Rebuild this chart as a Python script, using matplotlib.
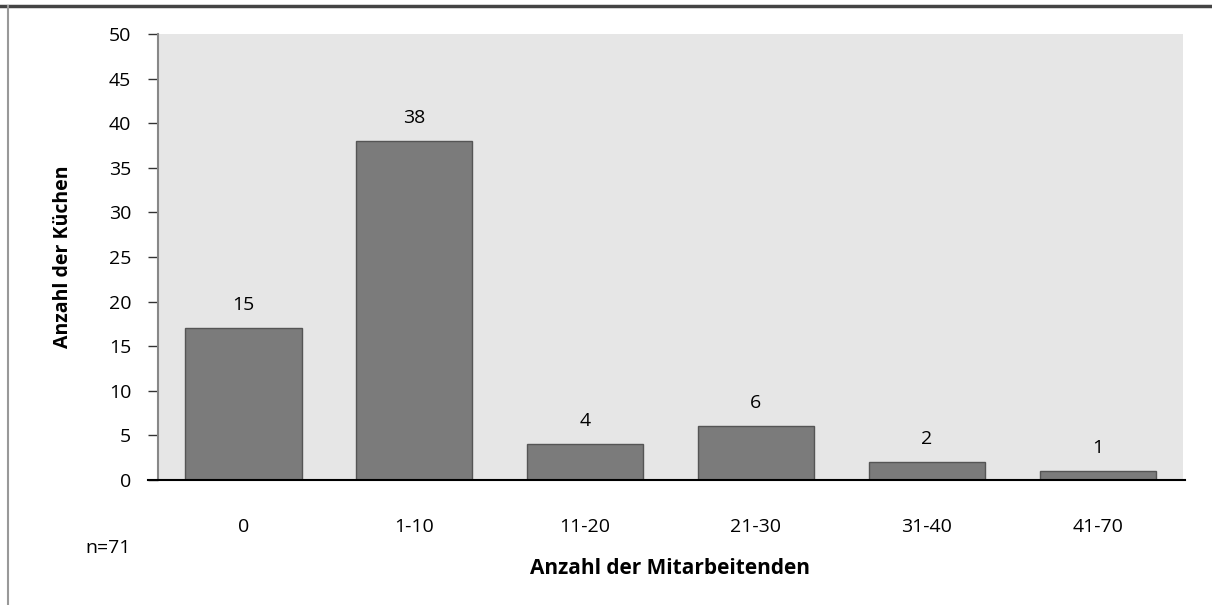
import matplotlib.pyplot as plt
from matplotlib.lines import Line2D

categories = ['0', '1-10', '11-20', '21-30', '31-40', '41-70']
bar_heights = [17, 38, 4, 6, 2, 1]
bar_labels = ['15', '38', '4', '6', '2', '1']
y_ticks = [0, 5, 10, 15, 20, 25, 30, 35, 40, 45, 50]

plt.rcParams['font.family'] = ['Open Sans', 'DejaVu Sans']

W, H = 1212, 605
fig = plt.figure(figsize=(W / 100, H / 100), dpi=100)
ax = fig.add_axes([158 / W, 1 - 480 / H, (1183 - 158) / W, (480 - 34) / H])
ax.set_facecolor('#e6e6e6')

x = range(len(categories))
ax.bar(x, bar_heights, width=0.68, color='#7b7b7b', edgecolor='#555555', linewidth=1)
for i, (h, lab) in enumerate(zip(bar_heights, bar_labels)):
    ax.text(i, h + 1.6, lab, ha='center', va='bottom', fontsize=14)

ax.set_xlim(-0.5, len(categories) - 0.5)
ax.set_ylim(0, 50)
ax.set_yticks(y_ticks)
ax.set_xticks(list(x))
ax.set_xticklabels(categories, fontsize=14)
ax.tick_params(axis='y', labelsize=14, length=7.2, width=1, color='#333333', pad=12)
ax.tick_params(axis='x', length=0, pad=27)

ax.spines['top'].set_visible(False)
ax.spines['right'].set_visible(False)
ax.spines['left'].set_color('#888888')
ax.spines['left'].set_linewidth(1.5)
ax.spines['bottom'].set_color('black')
ax.spines['bottom'].set_linewidth(1.5)
ax.spines['bottom'].set_bounds(-0.56, len(categories) - 0.49)

ax.set_ylabel('Anzahl der Küchen', fontsize=14, fontweight='bold')
ax.yaxis.set_label_coords((63 - 158) / (1183 - 158), (480 - 257) / (480 - 34))
ax.set_xlabel('Anzahl der Mitarbeitenden', fontsize=15, fontweight='bold')
ax.xaxis.set_label_coords((670 - 158) / (1183 - 158), -(569 - 480) / (480 - 34))
ax.xaxis.label.set_va('center')
ax.yaxis.label.set_va('center')
fig.text(85 / W, 1 - 548 / H, 'n=71', fontsize=14, va='center')

# outer frame lines
fig.add_artist(Line2D([0, 1], [1 - 6 / H, 1 - 6 / H], color='#444444', linewidth=2.5))
fig.add_artist(Line2D([8 / W, 8 / W], [0, 1 - 6 / H], color='#999999', linewidth=1.5))

fig.savefig('out.png', dpi=100)
